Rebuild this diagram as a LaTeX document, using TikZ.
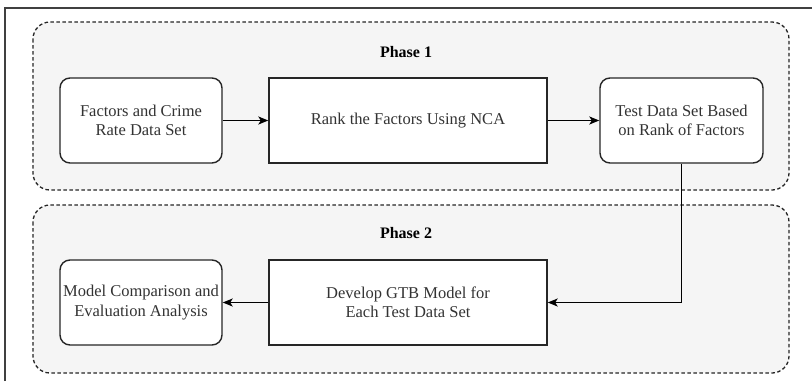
\documentclass[tikz,border=0pt]{standalone}
\usepackage{fontspec}
\setmainfont{Liberation Serif}
\usetikzlibrary{arrows.meta}
\begin{document}
\begin{tikzpicture}[x=1pt,y=-1pt,
                        arrow/.style = {line width=1.3pt,-{Stealth[length=10pt,width=8pt,inset=2.5pt]}},
                        phase/.style = {draw=black!85,fill=black!4,line width=1.3pt,dash pattern=on 3.5pt off 2.5pt,rounded corners=17pt},
                        roundbox/.style = {draw=black!85,fill=white,line width=1.4pt,rounded corners=10pt,minimum width=162pt,minimum height=85pt,align=center,inner sep=1pt,text=black!80,font=\fontsize{16.5}{19.5}\selectfont},
                        squarebox/.style = {roundbox,rounded corners=0pt,minimum width=278pt},
                        title/.style = {font=\fontsize{16}{19}\selectfont\bfseries}]
                        \useasboundingbox (0,0) rectangle (812,381);
                        \fill[white] (0,0) rectangle (812,381);
                        \draw[line width=1.6pt,black!75] (5,381) -- (5,8) -- (812,8);

                        \draw[phase] (33,22) rectangle (789,190);
                        \draw[phase] (33,205) rectangle (789,373);

                        \node[title] (phaseone) at (406,52) {Phase 1};
                        \node[title] (phasetwo) at (406,233) {Phase 2};

                        \node[roundbox] (dataset) at (141,120.5) {Factors and Crime\\Rate Data Set};
                        \node[squarebox] (rank) at (408,120.5) {Rank the Factors Using NCA};
                        \node[roundbox,minimum width=163pt] (testset) at (681.5,120.5) {Test Data Set Based\\on Rank of Factors};
                        \node[roundbox] (compare) at (141,302.5) {Model Comparison and\\Evaluation Analysis};
                        \node[squarebox] (develop) at (408,302.5) {Develop GTB Model for\\Each Test Data Set};

                        \draw[arrow] (dataset) -- (rank);
                        \draw[arrow] (rank) -- (testset);
                        \draw[arrow] (testset.south) |- (develop.east);
                        \draw[arrow] (develop) -- (compare);
                    \end{tikzpicture}
\end{document}
